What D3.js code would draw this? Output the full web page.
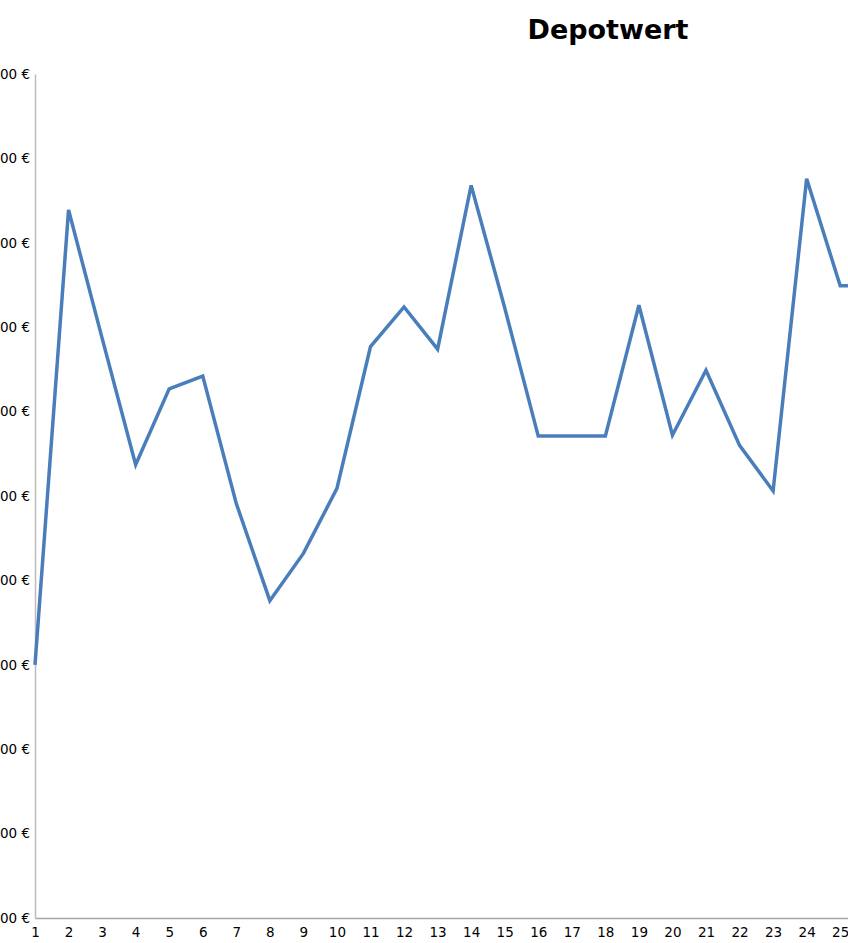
<!DOCTYPE html>
<html><head><meta charset="utf-8">
<script src="https://cdn.jsdelivr.net/npm/d3@7"></script>
<style>body{margin:0;background:#fff;overflow:hidden}svg{display:block}</style>
</head><body>
<script>
const periods = ["1","2","3","4","5","6","7","8","9","10","11","12","13","14","15","16","17","18","19","20","21","22","23","24","25","26"];
const depotValues = [10000,15390,13870,12370,13270,13420,11910,10760,11320,12090,13770,14240,13740,15680,14230,12710,12710,12710,14260,12720,13490,12600,12060,15760,14490,14490];
const yTicks = [7000,8000,9000,10000,11000,12000,13000,14000,15000,16000,17000];
const title = "Depotwert";

const W = 848, H = 943;
const svg = d3.select("body").append("svg").attr("width", W).attr("height", H)
  .style("font-family", "'DejaVu Sans', sans-serif");

const x0 = 35, step = 33.55;
const x = d3.scalePoint().domain(periods).range([x0, x0 + step*(periods.length-1)]);
const y = d3.scaleLinear().domain([7000, 17000]).range([918, 74]);

const fmt = d => d3.format(",")(d).replace(/,/g, ".") + " €";

// y axis
const ya = svg.append("g").attr("transform", `translate(${x0},0)`)
  .call(d3.axisLeft(y).tickValues(yTicks).tickFormat(fmt).tickSize(0).tickPadding(5));
ya.select(".domain").attr("stroke", "#bdbdbd").attr("stroke-width", 1.5);
ya.selectAll("text").attr("font-size", 13.5).attr("fill", "#000")
  .attr("font-family", "'DejaVu Sans', sans-serif");

// x axis
const xa = svg.append("g").attr("transform", `translate(0,918)`)
  .call(d3.axisBottom(x).tickSize(0).tickPadding(9));
xa.select(".domain").attr("stroke", "#a6a6a6").attr("stroke-width", 1.5);
xa.selectAll("text").attr("font-size", 13.5).attr("fill", "#000")
  .attr("font-family", "'DejaVu Sans', sans-serif");

// line
const line = d3.line().x((d,i) => x(periods[i])).y(d => y(d));
svg.append("path").datum(depotValues).attr("d", line)
  .attr("fill", "none").attr("stroke", "#4a7ebb").attr("stroke-width", 3.5)
  .attr("stroke-linejoin", "miter");

svg.append("text").attr("x", 608).attr("y", 39).attr("text-anchor", "middle")
  .attr("font-size", 27).attr("font-weight", "bold").attr("fill", "#000")
  .text(title);
</script>
</body></html>
